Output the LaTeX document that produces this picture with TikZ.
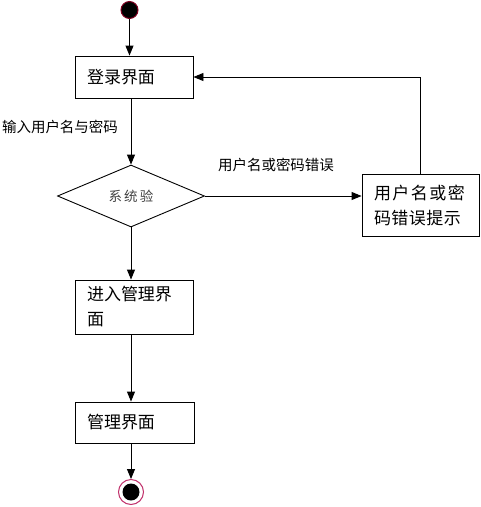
\documentclass[tikz,border=0pt]{standalone}
\usepackage{fontspec}
\newfontfamily\cjk{Noto Sans CJK SC}
\usetikzlibrary{shapes.geometric,arrows.meta}
\definecolor{startred}{HTML}{800020}
\definecolor{endred}{HTML}{C0306A}
\tikzset{
  boxnode/.style={draw,line width=0.9pt,rectangle,inner xsep=12pt,inner ysep=3pt,align=left,anchor=center,font=\cjk\fontsize{17}{25}\selectfont},
  decnode/.style={draw,line width=0.9pt,diamond,inner sep=0pt,minimum width=147pt,minimum height=62pt,font=\cjk\fontsize{13.5}{14}\selectfont,text=black!75},
  lbl/.style={font=\cjk\fontsize{14.5}{16}\selectfont},
  flow/.style={line width=0.9pt,-{Triangle[length=10pt,width=8pt]}}
}
\begin{document}
\begin{tikzpicture}[x=1pt,y=-1pt]
\useasboundingbox (0,0) rectangle (481,507);
\node[circle,fill=black,draw=startred,line width=1pt,minimum size=17pt,inner sep=0pt] (start) at (129.5,10) {};
\node[boxnode,minimum width=118pt,minimum height=42pt,text width=94pt] (login) at (134,77) {登录界面};
\node[decnode] (dec) at (131,196) {系\,统\,验};
\node[boxnode,minimum width=117pt,minimum height=62pt,text width=93pt] (err) at (420.5,205) {用\kern1.5pt 户\kern1.5pt 名\kern1.5pt 或\kern1.5pt 密\\码\kern0.5pt 错\kern0.5pt 误\kern0.5pt 提\kern0.5pt 示};
\node[boxnode,minimum width=118pt,minimum height=54pt,text width=94pt] (enter) at (134,307) {进入管理界\\面};
\node[boxnode,minimum width=119pt,minimum height=41pt,text width=95pt] (manage) at (134.5,422.5) {管理界面};
\node[circle,draw=endred,line width=1pt,minimum size=25pt,inner sep=0pt] (end) at (131,492) {};
\node[circle,fill=black,minimum size=17pt,inner sep=0pt] (endin) at (end.center) {};
\node[lbl] (l1) at (60,127) {输入用户名与密码};
\node[lbl] (l2) at (276,165) {用户名或密码错误};
\draw[flow] (start.south) -- (start.south |- login.north);
\draw[flow] (dec.north |- login.south) -- (dec.north);
\draw[flow] (dec.east) -- (dec.east -| err.west);
\draw[flow] (err.north) |- (login.east);
\draw[flow] (dec.south) -- (dec.south |- enter.north);
\draw[flow] (dec.south |- enter.south) -- (dec.south |- manage.north);
\draw[flow] (dec.south |- manage.south) -- (end.north);
\end{tikzpicture}
\end{document}
